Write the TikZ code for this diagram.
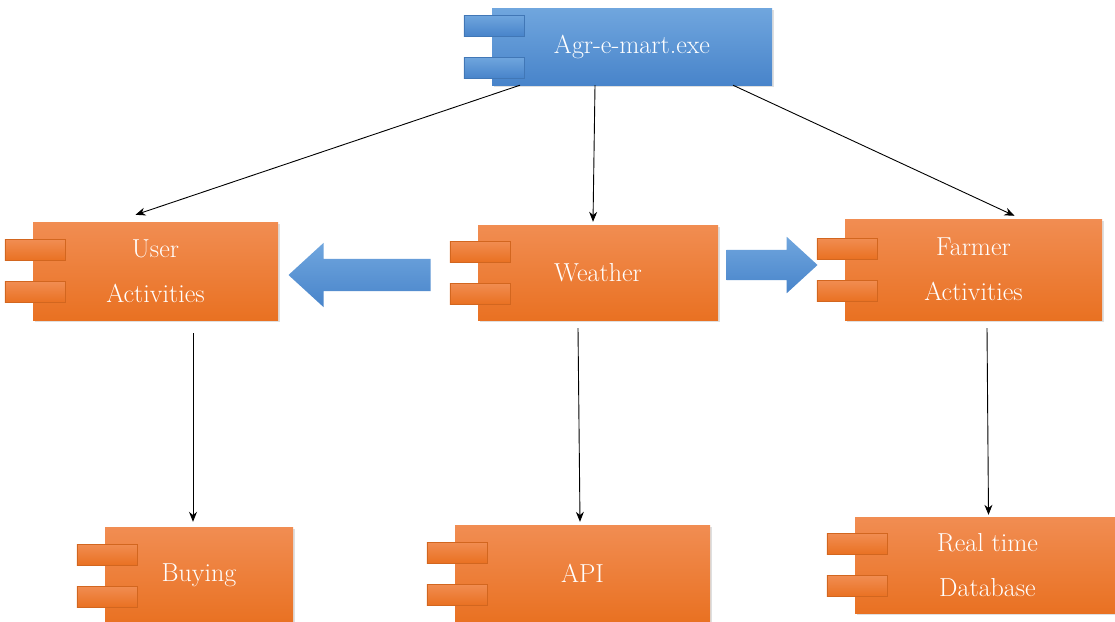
\documentclass[tikz,border=0pt]{standalone}
\usetikzlibrary{shapes.arrows,shadows,arrows.meta}

%pestañas del componente
\newcommand{\pestanas}[2]{%
  \foreach \dy in {10.5,-31.5}
    \draw[#2] ([xshift=-28pt,yshift=\dy pt]#1.west) rectangle ([xshift=32pt,yshift=\dy pt+21pt]#1.west);
}

\begin{document}
\begin{tikzpicture}[x=1pt,y=-1pt,
    comp/.style={rectangle, top color=naranjaC, bottom color=naranjaO, text=white, align=center,
      font=\fontsize{26}{45}\selectfont,
      drop shadow={shadow xshift=2pt,shadow yshift=-2pt,opacity=0.25}},
    compazul/.style={top color=azulC, bottom color=azulO},
    pestana/.style={top color=naranjaC, bottom color=naranjaO, draw=naranjaO!90!black, line width=0.3pt},
    pestanazul/.style={top color=azulC, bottom color=azulO, draw=azulO!90!black, line width=0.3pt},
    flecha/.style={single arrow, inner xsep=0pt, single arrow tip angle=85, top color=azulC, bottom color=azulO},
    conector/.style={-{Stealth[length=10pt,width=8pt]}, line width=0.9pt}]
        %colores
        \definecolor{naranjaC}{RGB}{241,141,82}
        \definecolor{naranjaO}{RGB}{233,113,34}
        \definecolor{azulC}{RGB}{112,166,222}
        \definecolor{azulO}{RGB}{72,132,202}

        %fondo
        \path[clip] (0,0) rectangle (1115,621);
        \fill[white] (0,0) rectangle (1115,621);

        %componentes
        \node[comp, compazul, minimum width=280pt, minimum height=77pt] (app) at (632,46.5) {Agr-e-mart.exe};
        \node[comp, minimum width=245pt, minimum height=98pt] (user) at (155.5,271) {User\\Activities};
        \node[comp, minimum width=240pt, minimum height=95pt] (weather) at (598,272.5) {Weather};
        \node[comp, minimum width=257pt, minimum height=101pt] (farmer) at (973.5,269.5) {Farmer\\Activities};
        \node[comp, minimum width=188pt, minimum height=97pt] (buying) at (199,575.5) {Buying};
        \node[comp, minimum width=255pt, minimum height=97pt] (api) at (582.5,573.5) {API};
        \node[comp, minimum width=265pt, minimum height=96pt] (db) at (987.5,565) {Real time\\Database};

        \pestanas{app}{pestanazul}
        \foreach \n in {user,weather,farmer,buying,api,db}
            {\pestanas{\n}{pestana}}

        %flechas
        \draw[conector] ([xshift=-112pt]app.south) -- ([xshift=-20pt,yshift=7pt]user.north);
        \draw[conector] ([xshift=-37pt]app.south) -- ([xshift=-5pt,yshift=3pt]weather.north);
        \draw[conector] ([xshift=101pt]app.south) -- ([xshift=41pt,yshift=3pt]farmer.north);
        \draw[conector] ([xshift=37.5pt,yshift=-13pt]user.south) -- ([xshift=-6pt,yshift=5pt]buying.north);
        \draw[conector] ([xshift=-20pt,yshift=-8pt]weather.south) -- ([xshift=-2.5pt,yshift=3pt]api.north);
        \draw[conector] ([xshift=13.5pt,yshift=-8pt]farmer.south) -- ([xshift=1pt,yshift=2pt]db.north);

        %flechas gruesas
        \node[flecha, shape border rotate=180, minimum height=142pt, inner ysep=16pt,
            single arrow head extend=16pt, anchor=tip] (flechaizq) at ([xshift=10pt,yshift=-4pt]user.east) {};
        \node[flecha, minimum height=91pt, inner ysep=15pt,
            single arrow head extend=13pt, anchor=tip] (flechader) at ([xshift=-27pt,yshift=4.5pt]farmer.west) {};
    \end{tikzpicture}
\end{document}
